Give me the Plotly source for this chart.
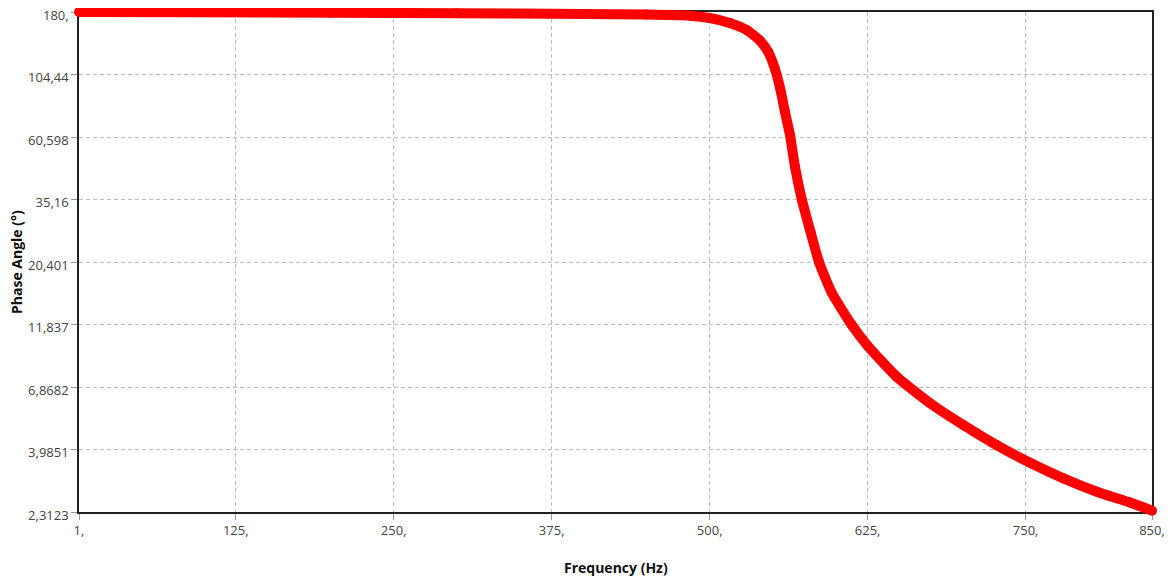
import math
import plotly.graph_objects as go

# ---- data ----
freq_hz = [1, 100, 200, 300, 400, 450, 484.5, 500, 516, 529.3, 539.9, 546.4, 551.7,
           555.7, 559.6, 563.6, 567.5, 573, 580, 586.5, 596.6, 612.4, 625.3, 648,
           674.4, 700.7, 727.1, 753.5, 779.9, 806.3, 832.6, 850]
phase_deg = [180, 179.6, 179, 178, 177, 176, 174.3, 170.8, 163.6, 153.9, 140.1, 127.0,
             109.6, 92.9, 75.3, 61.5, 46.8, 35.0, 26.3, 20.4, 15.6, 11.8, 9.8, 7.51,
             5.96, 4.93, 4.14, 3.55, 3.10, 2.76, 2.51, 2.34]

x_tick_vals = [1, 125, 250, 375, 500, 625, 750, 850]
x_tick_text = ["1,", "125,", "250,", "375,", "500,", "625,", "750,", "850,"]
y_tick_vals = [180, 104.44, 60.598, 35.16, 20.401, 11.837, 6.8682, 3.9851, 2.3123]
y_tick_text = ["180,", "104,44", "60,598", "35,16", "20,401", "11,837", "6,8682", "3,9851", "2,3123"]

x_title = "Frequency (Hz)"
y_title = "Phase Angle (°)"

# ---- layout geometry (page px; page body has an 8px margin) ----
OFF = 8
W, H = 1172 - OFF, 580 - OFF
L, R, T, B = 79 - OFF, 1152 - OFF, 12 - OFF, 512 - OFF
EXT = 12  # extra px so the thick curve is not clipped at the frame
ext_l, ext_r = min(EXT, L), min(EXT, W - R)
ext_t, ext_b = min(EXT, T), min(EXT, H - B)

x_lo, x_hi = 1, 850
y_lo, y_hi = math.log10(2.3123), math.log10(180)
ux = (x_hi - x_lo) / (R - L)
uy = (y_hi - y_lo) / (B - T)

FONT = "Open Sans"
tick_font = dict(family=FONT, size=13, color="#444444")

fig = go.Figure()
# invisible trace to establish the main axes
fig.add_trace(go.Scatter(x=[x_lo, x_hi], y=[2.3123, 180], mode="markers",
                         marker=dict(opacity=0), hoverinfo="skip", showlegend=False))
fig.add_trace(go.Scatter(
    x=freq_hz, y=phase_deg, xaxis="x2", yaxis="y2",
    mode="lines+markers",
    line=dict(color="#ff0000", width=10, shape="spline", smoothing=0.5),
    marker=dict(color="#ff0000", size=10),
    hoverinfo="x+y", showlegend=False,
))

fig.update_layout(
    width=W, height=H,
    margin=dict(l=0, r=0, t=0, b=0),
    paper_bgcolor="white", plot_bgcolor="rgba(0,0,0,0)",
    xaxis=dict(
        domain=[L / W, R / W], range=[x_lo, x_hi], anchor="y",
        tickmode="array", tickvals=x_tick_vals, ticktext=x_tick_text,
        tickfont=tick_font, ticks="outside", ticklen=6, tickcolor="#999999",
        ticklabeloverflow="allow",
        showgrid=True, gridcolor="#bdbdbd", griddash="4px,3px", gridwidth=1,
        showline=True, linecolor="#222222", linewidth=1.5, mirror=True,
        zeroline=False, automargin=False,
    ),
    yaxis=dict(
        domain=[(H - B) / H, (H - T) / H], type="log", range=[y_lo, y_hi], anchor="x",
        tickmode="array", tickvals=y_tick_vals, ticktext=y_tick_text,
        tickfont=tick_font, ticks="outside", ticklen=6, tickcolor="#999999",
        ticklabeloverflow="allow", ticklabelshift=3,
        showgrid=True, gridcolor="#bdbdbd", griddash="4px,3px", gridwidth=1,
        showline=True, linecolor="#222222", linewidth=1.5, mirror=True,
        zeroline=False, automargin=False,
    ),
    xaxis2=dict(
        domain=[(L - ext_l) / W, (R + ext_r) / W],
        range=[x_lo - ext_l * ux, x_hi + ext_r * ux], anchor="y2",
        visible=False, showgrid=False, zeroline=False,
    ),
    yaxis2=dict(
        domain=[(H - B - ext_b) / H, (H - T + ext_t) / H], type="log",
        range=[y_lo - ext_b * uy, y_hi + ext_t * uy], anchor="x2",
        visible=False, showgrid=False, zeroline=False,
    ),
    annotations=[
        dict(text="<b>" + x_title + "</b>", xref="paper", yref="paper",
             x=(L + R) / 2 / W, y=(H - (567 - OFF)) / H, xanchor="center", yanchor="middle",
             showarrow=False, font=dict(family=FONT, size=14, color="#111111")),
        dict(text="<b>" + y_title + "</b>", xref="paper", yref="paper",
             x=(16 - OFF) / W, y=(H - (262 - OFF)) / H, xanchor="center", yanchor="middle",
             textangle=-90, showarrow=False,
             font=dict(family=FONT, size=14, color="#111111")),
    ],
)

fig.write_html("out.html")
